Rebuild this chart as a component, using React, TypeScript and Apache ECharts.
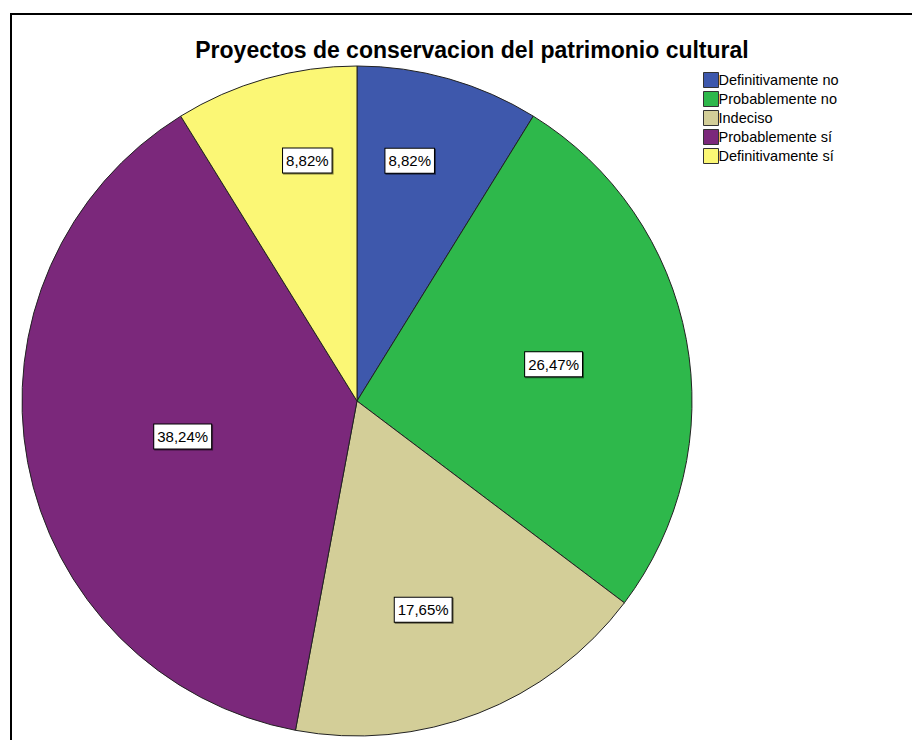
import React, { useEffect, useRef } from "react";
import * as echarts from "echarts";

const titleText = "Proyectos de conservacion del patrimonio cultural";
const categories = [
  "Definitivamente no",
  "Probablemente no",
  "Indeciso",
  "Probablemente sí",
  "Definitivamente sí",
];
const percentages = [8.82, 26.47, 17.65, 38.24, 8.82];
const sliceColors = ["#3E58AC", "#2EB84B", "#D3CE98", "#7B287B", "#FBF775"];
// label placement inside each slice (style only): radius fraction and angular shift in degrees
const labelRadiusFactors = [0.734, 0.597, 0.654, 0.531, 0.733];
const labelAngleShifts = [-3.5, 0, 3.6, -0.9, 4.2];

const FONT = "Arial, 'Liberation Sans', sans-serif";
const CX = 357;
const CY = 401;
const R = 335;

export default function App() {
  const ref = useRef<HTMLDivElement>(null);

  useEffect(() => {
    if (!ref.current) return;
    const chart = echarts.init(ref.current, null, { renderer: "svg" });
    const total = percentages.reduce((a, b) => a + b, 0);
    const midAngles: number[] = [];
    let cum = 0;
    percentages.forEach((v) => {
      midAngles.push(((cum + v / 2) / total) * 2 * Math.PI);
      cum += v;
    });

    chart.setOption({
      animation: false,
      backgroundColor: "#ffffff",
      title: {
        text: titleText,
        left: 467,
        textAlign: "center",
        top: 33,
        textStyle: {
          fontFamily: FONT,
          fontSize: 23,
          fontWeight: "bold",
          color: "#000",
        },
      },
      legend: {
        orient: "vertical",
        left: 698,
        top: 67,
        itemWidth: 15,
        itemHeight: 15,
        itemGap: 3,
        icon: "rect",
        data: categories,
        textStyle: {
          fontFamily: FONT,
          fontSize: 14.5,
          color: "#000",
          padding: [0, 0, 0, -5],
        },
        itemStyle: { borderColor: "#333", borderWidth: 1 },
      },
      graphic: [
        {
          type: "rect",
          shape: { x: 11, y: 14, width: 940, height: 760 },
          style: { fill: "none", stroke: "#000", lineWidth: 2 },
          silent: true,
        },
      ],
      series: [
        {
          type: "pie",
          center: [CX, CY],
          radius: [0, R],
          startAngle: 90,
          clockwise: true,
          avoidLabelOverlap: false,
          itemStyle: { borderColor: "#222", borderWidth: 1 },
          emphasis: { disabled: true },
          label: {
            show: true,
            position: "inside",
            formatter: (p: any) =>
              p.value.toFixed(2).replace(".", ",") + "%",
            fontFamily: FONT,
            fontSize: 15,
            color: "#000",
            backgroundColor: "#fff",
            borderColor: "#000",
            borderWidth: 1,
            padding: [5, 3, 4, 3],
            shadowColor: "rgba(0,0,0,0.5)",
            shadowOffsetX: 1,
            shadowOffsetY: 1,
            shadowBlur: 0,
          },
          labelLine: { show: false },
          labelLayout: (params: any) => {
            const i = params.dataIndex;
            const a = midAngles[i] + (labelAngleShifts[i] * Math.PI) / 180;
            const f = labelRadiusFactors[i];
            return {
              x: CX + Math.sin(a) * R * f,
              y: CY - Math.cos(a) * R * f,
              align: "center",
              verticalAlign: "middle",
            };
          },
          data: categories.map((name, i) => ({
            name,
            value: percentages[i],
            itemStyle: { color: sliceColors[i] },
          })),
        },
      ],
    });
    return () => chart.dispose();
  }, []);

  return (
    <div
      ref={ref}
      style={{ position: "fixed", left: 0, top: 0, width: 912, height: 740 }}
    />
  );
}
